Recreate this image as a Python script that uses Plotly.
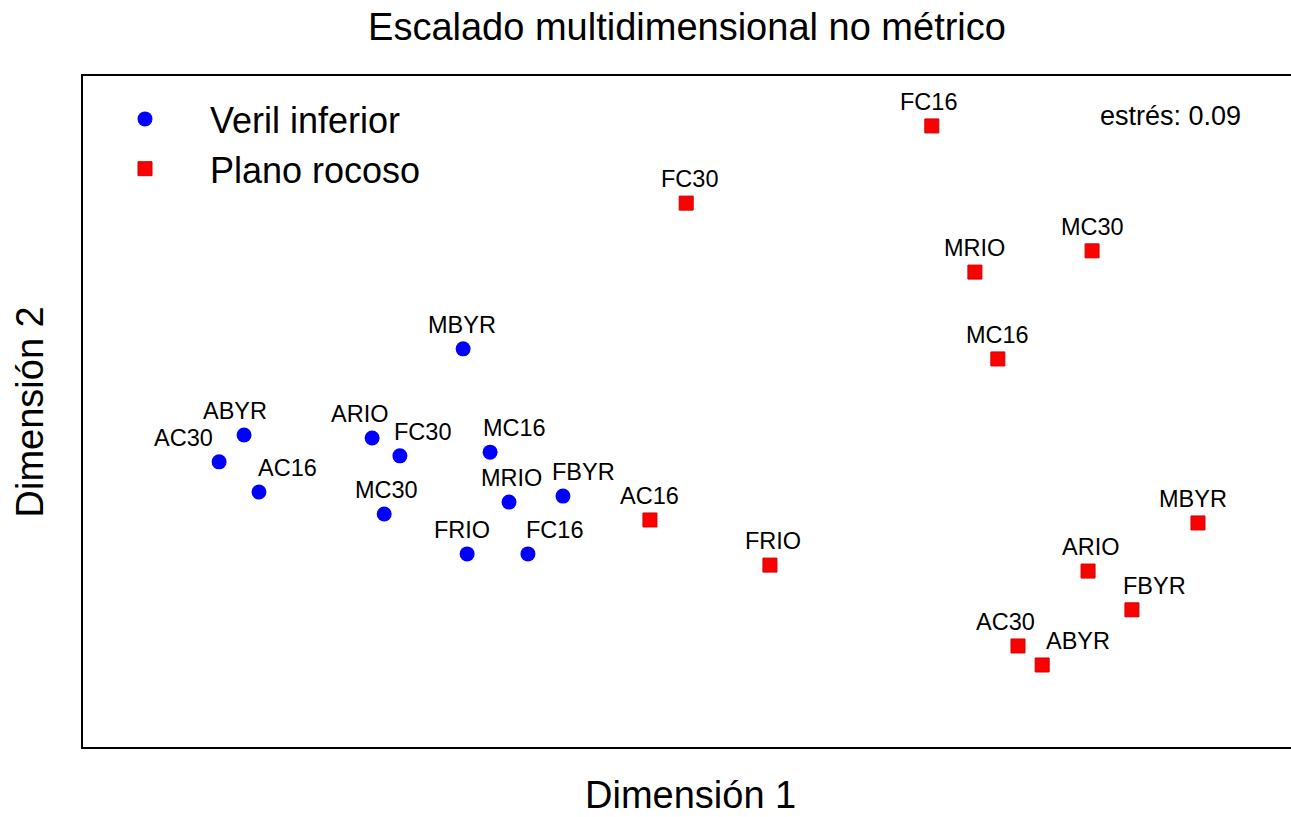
import plotly.graph_objects as go

# ---- data (MDS coordinates) ----
veril_labels = ["ABYR", "AC30", "AC16", "ARIO", "FC30", "MC30", "MBYR", "MC16", "MRIO", "FBYR", "FRIO", "FC16"]
veril_x = [-1.100, -1.162, -1.063, -0.782, -0.713, -0.752, -0.556, -0.489, -0.442, -0.308, -0.546, -0.395]
veril_y = [-0.063, -0.135, -0.216, -0.071, -0.119, -0.275, 0.168, -0.109, -0.243, -0.227, -0.382, -0.382]

plano_labels = ["FC16", "FC30", "MRIO", "MC30", "MC16", "AC16", "FRIO", "MBYR", "ARIO", "FBYR", "AC30", "ABYR"]
plano_x = [0.608, -0.002, 0.715, 1.006, 0.772, -0.092, 0.206, 1.269, 0.996, 1.105, 0.822, 0.882]
plano_y = [0.766, 0.559, 0.374, 0.431, 0.141, -0.291, -0.412, -0.299, -0.428, -0.532, -0.629, -0.680]

stress = 0.09

# ---- label placement (pixel shifts relative to each point) ----
veril_shift = {"ABYR": -9, "AC30": -36, "AC16": 29, "ARIO": -13, "FC30": 23, "MC30": 2,
               "MBYR": -1, "MC16": 24, "MRIO": 2, "FBYR": 21, "FRIO": -5, "FC16": 27}
plano_shift = {"FC16": -3, "FC30": 3, "MRIO": 0, "MC30": 0, "MC16": 0, "AC16": 0,
               "FRIO": 3, "MBYR": -5, "ARIO": 2, "FBYR": 23, "AC30": -12, "ABYR": 36}

FONT = "Liberation Sans, Arial, sans-serif"
BIG = 38

fig = go.Figure()
fig.add_trace(go.Scatter(
    x=veril_x, y=veril_y, mode="markers", name="Veril inferior",
    marker=dict(symbol="circle", size=15, color="#0000FF", line=dict(width=0)),
))
fig.add_trace(go.Scatter(
    x=plano_x, y=plano_y, mode="markers", name="Plano rocoso",
    marker=dict(symbol="square", size=14, color="#FF0000", line=dict(width=1, color="#D00000")),
))

annotations = []
for lab, xv, yv in zip(veril_labels, veril_x, veril_y):
    annotations.append(dict(x=xv, y=yv, xref="x", yref="y", text=lab, showarrow=False,
                            xshift=veril_shift[lab], yshift=24, yanchor="middle",
                            font=dict(family=FONT, size=23.5, color="black")))
for lab, xv, yv in zip(plano_labels, plano_x, plano_y):
    annotations.append(dict(x=xv, y=yv, xref="x", yref="y", text=lab, showarrow=False,
                            xshift=plano_shift[lab], yshift=24, yanchor="middle",
                            font=dict(family=FONT, size=23.5, color="black")))

annotations.append(dict(x=(1170 - 83) / 1208, y=1 - (116 - 76) / 671, xref="paper", yref="paper",
                        text=f"estrés: {stress:.2f}", showarrow=False,
                        xanchor="center", yanchor="middle",
                        font=dict(family=FONT, size=27, color="black")))
annotations.append(dict(x=(690 - 83) / 1208, y=-(795 - 747) / 671, xref="paper", yref="paper",
                        text="Dimensión 1", showarrow=False, xanchor="center", yanchor="middle",
                        font=dict(family=FONT, size=BIG, color="black")))
annotations.append(dict(x=-0.0439, y=0.5, xref="paper", yref="paper", text="Dimensión 2",
                        showarrow=False, xanchor="center", yanchor="middle", textangle=-90,
                        font=dict(family=FONT, size=BIG, color="black")))

fig.update_layout(
    width=1291, height=817,
    margin=dict(l=83, r=0, t=76, b=70),
    paper_bgcolor="white", plot_bgcolor="white",
    title=dict(text="Escalado multidimensional no métrico", x=0.5, xref="paper",
               y=1 - 27 / 817, yref="container", xanchor="center", yanchor="middle",
               font=dict(family=FONT, size=BIG, color="black")),
    xaxis=dict(range=[-1.5, 1.5], showgrid=False, zeroline=False, showticklabels=False,
               ticks="", showline=True, linecolor="black", linewidth=2, mirror=True),
    yaxis=dict(range=[-0.9, 0.9], showgrid=False, zeroline=False, showticklabels=False,
               ticks="", showline=True, linecolor="black", linewidth=2, mirror=False),
    legend=dict(x=(80 - 83) / 1208, y=1 - (89 - 76) / 671, xanchor="left", yanchor="top",
                bgcolor="rgba(0,0,0,0)", borderwidth=0, itemwidth=120,
                font=dict(family=FONT, size=36, color="black"), tracegroupgap=0),
    annotations=annotations,
    showlegend=True,
)

fig.write_html("out.html")
